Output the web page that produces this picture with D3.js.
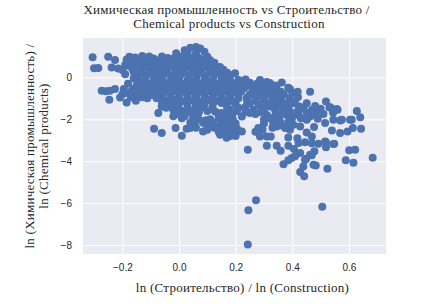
<!DOCTYPE html>
<html>
<head>
<meta charset="utf-8">
<script src="https://d3js.org/d3.v7.min.js"></script>
<style>
html,body{margin:0;padding:0;background:#fff}
svg{display:block}
</style>
</head>
<body>
<div id="chart"></div>
<script>
// points, [ln construction, ln chemical]
var farLeft = [[-.305,.96],[-.3,.44],[-.285,.45],[-.25,.99],[-.226,.83],[-.238,.47],[-.273,-.64],[-.258,-.66],[-.244,-.64],[-.246,-1.07],[-.226,-.56],[-.208,-.96],[-.185,-1.2],[-.152,-1.12],[-.112,-.99],[-.079,-.99],[-.2,-.8],[-.17,-.95],[-.13,-.95],[-.215,.42],[-.2,.35],[-.19,.15],[-.18,-.3],[-.195,-.55]]
var mainTop = [[.04,1.42],[.06,1.45],[.075,1.38],[.02,1.3],[.09,1.22],[-.01,1.15],[.03,1.2],[.06,1.15],[-.175,.98],[-.155,.95],[-.13,1.02],[-.105,1.0],[-.09,.9],[-.06,1.0],[-.04,.93],[-.02,.9],[.01,1.0],[.04,.95],[.07,.92],[.1,.98],[.125,.7],[.1,.72],[.07,.68],[.04,.7],[.01,.72],[-.02,.65],[-.05,.7],[-.08,.66],[-.11,.72],[-.14,.7],[-.17,.74],[-.19,.6],[-.165,.42],[-.135,.38],[-.105,.45],[-.075,.4],[-.045,.36],[-.015,.42],[.015,.38],[.045,.42],[.075,.36],[.105,.42],[.135,.38],[.157,.36],[.198,.2],[.18,.1],[.155,.08],[.125,.12],[.095,.06],[.065,.12],[.035,.08],[.005,.1],[-.025,.05],[-.055,.1],[-.085,.06],[-.115,.1],[-.145,.05],[-.16,-.05]]
var topFill = [[-.185,.85],[-.16,.83],[-.13,.87],[-.1,.84],[-.07,.82],[-.04,.8],[-.01,.85],[.02,.84],[.05,.83],[.08,.85],[.11,.82],[-.18,.55],[-.15,.56],[-.12,.52],[-.09,.55],[-.06,.53],[-.03,.56],[0,.55],[.03,.53],[.06,.56],[.09,.52],[.12,.55],[.145,.5],[-.16,.25],[-.13,.22],[-.1,.26],[-.07,.24],[-.04,.22],[-.01,.25],[.02,.23],[.05,.26],[.08,.22],[.11,.25],[.14,.23],[.17,.22],[-.15,-.1],[-.12,-.12],[-.09,-.08],[-.06,-.1],[-.03,-.12],[0,-.08],[.03,-.12],[.06,-.09],[.09,-.1],[.12,-.13],[.15,-.08],[.18,-.1],[.21,-.12],[.235,-.1]]
var mainMid = [[-.14,-.25],[-.11,-.3],[-.08,-.22],[-.05,-.28],[-.02,-.24],[.01,-.3],[.04,-.22],[.07,-.28],[.1,-.24],[.13,-.3],[.16,-.22],[.19,-.28],[.22,-.2],[.25,-.26],[.275,-.3],[-.16,-.55],[-.13,-.5],[-.1,-.56],[-.07,-.5],[-.04,-.55],[-.01,-.52],[.02,-.58],[.05,-.5],[.08,-.55],[.11,-.52],[.14,-.58],[.17,-.5],[.2,-.55],[.23,-.52],[.26,-.58],[.29,-.52],[.32,-.5],[.345,-.6],[.363,-.25],[.31,-.22],[-.19,-.75],[-.15,-.8],[-.12,-.78],[-.09,-.84],[-.06,-.78],[-.03,-.82],[0,-.78],[.03,-.85],[.06,-.8],[.09,-.84],[.12,-.78],[.15,-.85],[.18,-.8],[.21,-.86],[.25,-.82],[.28,-.86],[.31,-.8],[.34,-.85],[.37,-.8],[.392,-.55],[.4,-.75],[.419,-.69],[.463,-.68],[.286,-.12],[.32,-.27],[.386,-.5],[.228,-.2],[.345,-.4]]
var midFill = [[-.15,-.4],[-.12,-.42],[-.09,-.38],[-.06,-.4],[-.03,-.42],[0,-.38],[.03,-.41],[.06,-.38],[.09,-.42],[.12,-.4],[.15,-.38],[.18,-.42],[.21,-.38],[.24,-.4],[.27,-.42],[.3,-.38],[.33,-.36],[-.17,-.68],[-.14,-.66],[-.11,-.68],[-.08,-.66],[-.05,-.69],[-.02,-.66],[.01,-.68],[.04,-.66],[.07,-.69],[.1,-.66],[.13,-.68],[.16,-.66],[.19,-.69],[.22,-.66],[.27,-.68],[.3,-.66],[.33,-.7],[.36,-.68],[-.06,-.95],[-.03,-.97],[0,-.94],[.03,-.98],[.06,-.95],[.09,-.97],[.12,-.94],[.15,-.98],[.18,-.95],[.21,-1.0],[.24,-.96],[.27,-.98],[.3,-.95],[.33,-.98],[.36,-.95],[.39,-.98],[.42,-.95]]
var mainLow = [[-.05,-1.1],[-.02,-1.08],[.01,-1.14],[.04,-1.1],[.07,-1.15],[.1,-1.08],[.13,-1.12],[.16,-1.1],[.19,-1.14],[.24,-1.1],[.27,-1.12],[.3,-1.06],[.33,-1.1],[.36,-1.08],[.398,-1.15],[-.073,-1.7],[-.061,-1.39],[-.045,-1.45],[-.005,-1.38],[.03,-1.42],[.06,-1.36],[.085,-1.42],[.118,-1.4],[.168,-1.31],[.18,-1.55],[.263,-1.55],[.235,-1.4],[.29,-1.42],[.322,-1.39],[.045,-1.7],[.07,-1.68],[.05,-1.93],[.07,-2.0],[.15,-1.7],[.19,-1.72],[.222,-1.87],[.31,-1.79],[.333,-1.93],[.357,-1.79]]
var lowFill = [[-.06,-1.25],[-.03,-1.24],[0,-1.27],[.03,-1.25],[.06,-1.24],[.09,-1.27],[.12,-1.25],[.15,-1.22],[.2,-1.27],[.25,-1.24],[.28,-1.27],[.31,-1.25],[.34,-1.22],[.37,-1.25],[-.02,-1.55],[.01,-1.6],[.035,-1.55],[-.01,-1.75],[.02,-1.85],[.055,-2.2],[.06,-2.4],[.155,-1.9],[.17,-1.75],[.205,-1.6],[.15,-2.15],[.19,-2.0],[.155,-2.6],[.18,-2.8],[.2,-2.65],[.27,-2.6],[.295,-2.5],[.3,-2.2],[.33,-2.4],[.36,-2.3],[.35,-2.0],[.385,-2.15],[.34,-1.6],[.37,-1.5],[.1,-2.5],[.125,-2.4],[.1,-1.6],[.13,-1.65],[.12,-1.55],[.14,-1.95],[.11,-2.0],[.095,-2.05],[.17,-1.45],[.21,-1.45],[.235,-1.65],[.27,-1.75],[.29,-1.65],[.25,-1.7],[.3,-1.55],[.355,-1.4],[.39,-1.3],[.41,-1.25],[.38,-1.8],[.4,-1.85],[.42,-1.6],[.44,-1.5],[.47,-1.55],[.49,-1.6],[.5,-1.5],[.3,-2.0],[.16,-2.25],[.14,-2.6],[.13,-2.35],[.2,-2.8],[.19,-2.55],[.17,-2.4],[.06,-1.5],[.01,-1.95],[0,-1.7],[-.02,-1.85],[.04,-2.15]]
var lowerMid = [[-.088,-2.45],[-.061,-2.66],[-.012,-2.42],[.01,-2.79],[.027,-2.45],[.039,-2.42],[.085,-2.17],[.085,-2.58],[.1,-2.35],[.12,-2.17],[.145,-2.74],[.168,-2.88],[.186,-2.41],[.222,-2.58],[.163,-2.02],[.18,-2.2],[.15,-2.45],[.175,-2.6],[.2,-2.2],[.205,-2.45],[.243,-3.45],[.28,-2.42],[.286,-2.82],[.31,-3.26],[.324,-2.82],[.345,-3.26],[.345,-2.34],[.357,-2.1],[.333,-2.18],[.32,-1.95],[.375,-2.42],[.392,-2.5],[.404,-2.26],[.428,-2.34],[.477,-2.37],[.386,-2.87],[.418,-2.9],[.422,-3.13],[.451,-2.63],[.469,-2.82],[.445,-3.1],[.469,-3.14],[.492,-3.17],[.386,-3.26],[.406,-3.42],[.359,-3.5],[.31,-2.82]]
var rightSide = [[.328,-1.39],[.392,-1.63],[.425,-1.39],[.422,-1.79],[.451,-1.23],[.481,-1.36],[.451,-1.7],[.463,-1.87],[.451,-2.02],[.481,-1.79],[.51,-1.75],[.519,-1.15],[.534,-1.42],[.531,-1.44],[.557,-1.51],[.56,-1.55],[.544,-1.69],[.516,-2.18],[.545,-2.02],[.569,-2.06],[.575,-2.02],[.604,-2.02],[.61,-2.02],[.628,-1.6],[.64,-1.9],[.643,-2.45],[.614,-2.42],[.595,-2.58],[.569,-2.66],[.54,-2.53],[.398,-2.0],[.43,-1.95],[.49,-1.98]]
var lowTail = [[.516,-3.06],[.545,-3.18],[.519,-3.34],[.519,-3.1],[.548,-3.17],[.601,-3.48],[.622,-3.45],[.428,-3.61],[.463,-3.69],[.478,-3.53],[.469,-3.72],[.449,-3.88],[.41,-3.77],[.398,-3.85],[.386,-3.96],[.369,-4.15],[.445,-3.93],[.439,-4.25],[.475,-4.17],[.483,-4.2],[.428,-4.52],[.442,-4.72],[.524,-4.36],[.589,-3.96],[.616,-4.07],[.684,-3.83]]
var outliers = [[.272,-5.87],[.245,-6.34],[.243,-7.98],[.506,-6.17]]

var xTicks = [-.2,0,.2,.4,.6]
var yTicks = [0,-2,-4,-6,-8]
var titleLines = ["Химическая промышленность vs Строительство /","Chemical products vs Construction"]
var xLabel = "ln (Строительство) / ln (Construction)"
var yLabelLines = ["ln (Химическая промышленность) /","ln (Chemical products)"]

var sheet = {w:429, h:304, left:83, right:386, top:38, bottom:254}
var serif = "'Liberation Serif', serif"
var sans = "'Liberation Sans', Arial, sans-serif"
var minus = function(d){return d3.format(".1f")(d).replace("-","\u2212")}

var svg = d3.select("#chart").append("svg")
    .attr("width",sheet.w)
    .attr("height",sheet.h)

var x = d3.scaleLinear().domain([-.339,.731]).range([sheet.left,sheet.right])
var y = d3.scaleLinear().domain([1.88,-8.43]).range([sheet.top,sheet.bottom])

svg.append("rect")
    .attr("x",sheet.left)
    .attr("y",sheet.top)
    .attr("width",sheet.right-sheet.left)
    .attr("height",sheet.bottom-sheet.top)
    .attr("fill","#eaeaf2")

//axis x
var xAxis = svg.append("g")
    .attr("transform","translate(0,"+sheet.bottom+")")
    .call(d3.axisBottom(x).tickValues(xTicks).tickFormat(minus).tickSize(-(sheet.bottom-sheet.top)).tickPadding(10))
//axis y
var yAxis = svg.append("g")
    .attr("transform","translate("+sheet.left+",0)")
    .call(d3.axisLeft(y).tickValues(yTicks).tickFormat(function(d){return String(d).replace("-","\u2212")}).tickSize(-(sheet.right-sheet.left)).tickPadding(11))

;[xAxis,yAxis].forEach(function(axis){
    axis.select(".domain").remove()
    axis.selectAll(".tick line").attr("stroke","#fff").attr("stroke-width",1)
    axis.selectAll("text").attr("fill","#262626").style("font-family",sans).style("font-size","10px")
})

//adds points
var allPoints = [].concat(farLeft,mainTop,topFill,mainMid,midFill,mainLow,lowFill,lowerMid,rightSide,lowTail,outliers)
svg.append("g").selectAll("circle")
    .data(allPoints)
    .enter()
    .append("circle")
    .attr("cx",function(d){return x(d[0])})
    .attr("cy",function(d){return y(d[1])})
    .attr("r",4)
    .attr("fill","#4c72b0")

//title and labels
svg.selectAll(".title")
    .data(titleLines)
    .enter()
    .append("text")
    .attr("class","title")
    .attr("x",function(d,i){return i==0?226.5:229})
    .attr("y",function(d,i){return 14+i*14})
    .attr("text-anchor","middle")
    .attr("fill","#262626")
    .style("font-family",serif)
    .style("font-size","13px")
    .style("letter-spacing",".25px")
    .text(function(d){return d})

svg.append("text")
    .attr("x",242.5)
    .attr("y",292)
    .attr("text-anchor","middle")
    .attr("fill","#262626")
    .style("font-family",serif)
    .style("font-size","13px")
    .style("letter-spacing",".26px")
    .text(xLabel)

svg.selectAll(".ylabel")
    .data(yLabelLines)
    .enter()
    .append("text")
    .attr("class","ylabel")
    .attr("transform",function(d,i){return "translate("+(34+i*14)+",146) rotate(-90)"})
    .attr("text-anchor","middle")
    .attr("fill","#262626")
    .style("font-family",serif)
    .style("font-size","13px")
    .style("letter-spacing",".25px")
    .text(function(d){return d})
</script>
</body>
</html>
